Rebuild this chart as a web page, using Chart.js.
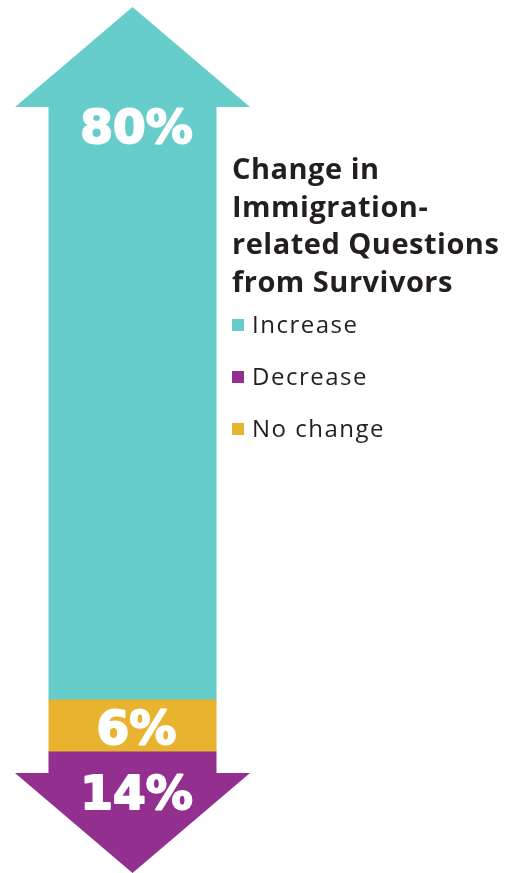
<!DOCTYPE html>
<html>
<head>
<meta charset="utf-8">
<script src="https://cdn.jsdelivr.net/npm/chart.js@4/dist/chart.umd.min.js"></script>
<style>
  html, body { margin: 0; padding: 0; background: #fff; }
  #wrap { position: relative; width: 516px; height: 873px; overflow: hidden; }
  #chart { position: absolute; left: 0; top: 0; }
  #title {
    position: absolute; left: 232px; top: 149px; margin: 0;
    font-family: "Open Sans", sans-serif; font-weight: 700; font-size: 29px;
    letter-spacing: 0.5px; line-height: 37.5px; color: #231f20; white-space: nowrap;
  }
  #legend { position: absolute; left: 232px; top: 308px; margin: 0; padding: 0; list-style: none; }
  #legend li {
    height: 52px; line-height: 32px; font-family: "Open Sans", sans-serif;
    font-size: 24px; letter-spacing: 1.5px; color: #231f20;
    display: flex; align-items: flex-start;
  }
  #legend .box { width: 12px; height: 12px; margin: 11px 8px 0 0; }
</style>
</head>
<body>
<div id="wrap">
  <canvas id="chart" width="516" height="873"></canvas>
  <h2 id="title">Change in<br>Immigration-<br>related Questions<br>from Survivors</h2>
  <ul id="legend"></ul>
</div>
<script>
// stacked bottom to top
const categories = ["Change"];
const seriesLabels = ["Decrease", "No change", "Increase"];
const seriesValues = [14, 6, 80];
const seriesColors = ["#93308f", "#e8b32e", "#67cdcb"];
const legendOrder = ["Increase", "Decrease", "No change"];

// label baseline distance below top of each segment
const labelOffsets = [57, 44, 136];

const el = {
  canvas: document.getElementById("chart"),
  legend: document.getElementById("legend"),
};

// clip the full-width stack into a double arrow
const arrowPlugin = {
  id: "arrow",
  beforeDatasetsDraw(chart) {
    const ctx = chart.ctx;
    const bar = chart.getDatasetMeta(0).data[0];
    const half = bar.width / 2;
    const cx = bar.x;
    const left = cx - half;
    const right = cx + half;
    const shaft = half * 0.715;
    const top = chart.scales.y.getPixelForValue(100);
    const bottom = chart.scales.y.getPixelForValue(0);
    const head = 100;

    ctx.save();
    ctx.beginPath();
    ctx.moveTo(cx, top);
    ctx.lineTo(right, top + head);
    ctx.lineTo(cx + shaft, top + head);
    ctx.lineTo(cx + shaft, bottom - head);
    ctx.lineTo(right, bottom - head);
    ctx.lineTo(cx, bottom);
    ctx.lineTo(left, bottom - head);
    ctx.lineTo(cx - shaft, bottom - head);
    ctx.lineTo(cx - shaft, top + head);
    ctx.lineTo(left, top + head);
    ctx.closePath();
    ctx.clip();
  },
  afterDatasetsDraw(chart) {
    const ctx = chart.ctx;
    ctx.restore();

    ctx.save();
    ctx.fillStyle = "#fff";
    ctx.strokeStyle = "#fff";
    ctx.lineWidth = 2;
    ctx.lineJoin = "round";
    ctx.font = "bold 47px 'DejaVu Sans', sans-serif";
    ctx.textAlign = "center";
    ctx.textBaseline = "alphabetic";
    chart.data.datasets.forEach((ds, i) => {
      const bar = chart.getDatasetMeta(i).data[0];
      const segTop = Math.min(bar.y, bar.base);
      const text = ds.data[0] + "%";
      const x = bar.x + 4;
      const y = segTop + labelOffsets[i];
      ctx.strokeText(text, x, y);
      ctx.fillText(text, x, y);
    });
    ctx.restore();
  },
};

const chart = new Chart(el.canvas, {
  type: "bar",
  data: {
    labels: categories,
    datasets: seriesLabels.map((label, i) => ({
      label,
      data: [seriesValues[i]],
      backgroundColor: seriesColors[i],
      borderWidth: 0,
      barPercentage: 1,
      categoryPercentage: 1,
    })),
  },
  options: {
    responsive: false,
    animation: false,
    layout: { padding: { left: 15, right: 266, top: 7, bottom: 0 } },
    plugins: {
      legend: { display: false },
      tooltip: { enabled: false },
    },
    scales: {
      x: { stacked: true, display: false },
      y: { stacked: true, display: false, min: 0, max: 100 },
    },
  },
  plugins: [arrowPlugin],
});

// html legend
legendOrder.forEach((name) => {
  const i = seriesLabels.indexOf(name);
  const li = document.createElement("li");
  const box = document.createElement("span");
  box.className = "box";
  box.style.background = seriesColors[i];
  li.append(box, document.createTextNode(name));
  el.legend.appendChild(li);
});
</script>
</body>
</html>
